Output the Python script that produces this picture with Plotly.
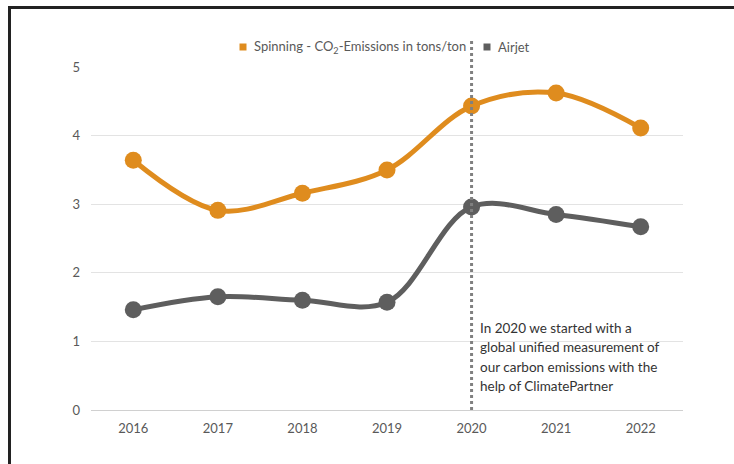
import plotly.graph_objects as go

years = [2016, 2017, 2018, 2019, 2020, 2021, 2022]
spinning = [3.64, 2.91, 3.16, 3.50, 4.43, 4.62, 4.11]
airjet = [1.46, 1.65, 1.60, 1.57, 2.96, 2.85, 2.67]
y_ticks = [0, 1, 2, 3, 4, 5]
series_names = ["Spinning - CO<sub>2</sub>-Emissions in tons/ton", "Airjet"]
note_lines = ["In 2020 we started with a", "global unified measurement of",
              "our carbon emissions with the", "help of ClimatePartner"]

ORANGE = "#DF8C1E"
GREY = "#5E5E5E"
FONT = "Lato"

W, H = 734, 464
L, R, T, B = 91, 51, 67, 54
pw, ph = W - L - R, H - T - B


def px_x(p):
    return (p - L) / pw


def px_y(q):
    return (H - B - q) / ph


fig = go.Figure()
for name, vals, color in zip(series_names, [spinning, airjet], [ORANGE, GREY]):
    fig.add_trace(go.Scatter(
        x=years, y=vals, mode="lines+markers", name=name,
        line=dict(color=color, width=5, shape="spline", smoothing=1),
        marker=dict(color=color, size=17),
        showlegend=False, hoverinfo="skip"))

# legend row: square swatch followed by the series name
legend_pos = [(243, 252), (487, 496)]
for name, color, (sx, tx) in zip(series_names, [ORANGE, GREY], legend_pos):
    fig.add_shape(type="rect", xref="paper", yref="paper",
                  x0=px_x(sx - 3.5), x1=px_x(sx + 3.5),
                  y0=px_y(47 + 3.5), y1=px_y(47 - 3.5),
                  line=dict(width=0), fillcolor=color)
    fig.add_annotation(text=name, xref="paper", yref="paper", x=px_x(tx), y=px_y(47),
                       xanchor="left", yanchor="middle", showarrow=False,
                       font=dict(family=FONT, size=13, color="#595959"))

# marker line for the 2020 methodology change
fig.add_shape(type="line", xref="x", yref="paper", x0=2020, x1=2020,
              y0=0, y1=px_y(38), line=dict(color="#808080", width=3, dash="dot"),
              layer="above")

for i, line in enumerate(note_lines):
    fig.add_annotation(text=line, xref="paper", yref="paper",
                       x=px_x(478), y=px_y(328 + 19.3 * i),
                       xanchor="left", yanchor="middle", showarrow=False,
                       font=dict(family=FONT, size=13.5, color="#333333"))

# outer frame
fig.add_shape(type="rect", xref="paper", yref="paper",
              x0=px_x(9.5), x1=px_x(760), y0=px_y(490), y1=px_y(7.5),
              line=dict(color="#222222", width=3), fillcolor="rgba(0,0,0,0)")

fig.update_layout(
    width=W, height=H, margin=dict(l=L, r=R, t=T, b=B),
    paper_bgcolor="white", plot_bgcolor="white",
    font=dict(family=FONT, size=13, color="#595959"),
    showlegend=False,
    xaxis=dict(range=[2015.5, 2022.5], tickmode="array", tickvals=years,
               ticktext=[str(y) for y in years], showgrid=False, zeroline=False,
               showline=True, linecolor="#D0D0D0", linewidth=1, ticks="",
               ticklabelstandoff=6, fixedrange=True),
    yaxis=dict(range=[0, 5], tickmode="array", tickvals=y_ticks, showgrid=True,
               gridcolor="#E3E3E3", gridwidth=1, zeroline=False, ticks="",
               ticklabelstandoff=10, fixedrange=True),
)

fig.write_html("out.html")
